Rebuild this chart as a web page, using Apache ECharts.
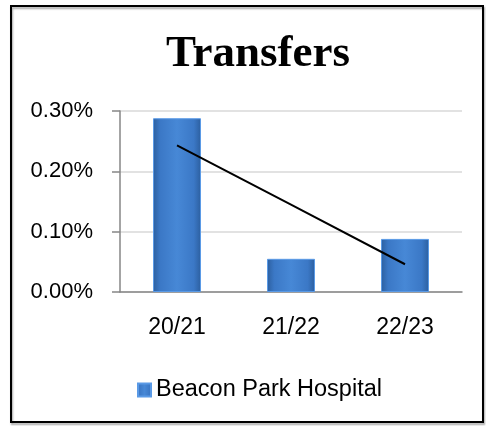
<!DOCTYPE html>
<html>
<head>
<meta charset="utf-8">
<script src="https://cdn.jsdelivr.net/npm/echarts@6/dist/echarts.min.js"></script>
<style>
  html, body { margin: 0; padding: 0; background: #fff; }
  #chart { width: 486px; height: 426px; }
</style>
</head>
<body>
<div id="chart"></div>
<script>
const seasons = ['20/21', '21/22', '22/23'];
const transfers = [0.00288, 0.00055, 0.00088];
// linear trend line
const trend = [0.00243, 0.00145, 0.00046];
const yTicks = [0, 0.001, 0.002, 0.003];

const barColor = new echarts.graphic.LinearGradient(0, 0, 1, 0, [
  { offset: 0, color: '#2c5f9f' },
  { offset: 0.15, color: '#3b78c6' },
  { offset: 0.5, color: '#4788d6' },
  { offset: 0.85, color: '#3b78c6' },
  { offset: 1, color: '#2c5f9f' }
]);

const chart = echarts.init(document.getElementById('chart'));
chart.setOption({
  animation: false,
  backgroundColor: '#fff',
  title: {
    text: 'Transfers',
    left: 253,
    top: 27,
    textAlign: 'center',
    textStyle: {
      fontFamily: 'Liberation Serif',
      fontWeight: 'bold',
      fontSize: 45,
      color: '#000'
    }
  },
  graphic: [{
    type: 'rect',
    shape: { x: 11, y: 6, width: 472, height: 416 },
    style: { fill: null, stroke: '#000', lineWidth: 2, shadowColor: 'rgba(0,0,0,0.35)', shadowOffsetX: 1, shadowOffsetY: 2, shadowBlur: 2 },
    z: 100
  }],
  legend: {
    data: ['Beacon Park Hospital'],
    left: 132,
    top: 373,
    itemWidth: 13,
    itemHeight: 13,
    itemGap: 6,
    textStyle: { fontFamily: 'Liberation Sans', fontSize: 23.5, color: '#000' },
    icon: 'rect'
  },
  grid: { left: 120, right: 24, top: 111, bottom: 134 },
  xAxis: {
    type: 'category',
    data: seasons,
    axisLine: { lineStyle: { color: '#868686', width: 1.5 } },
    axisTick: { length: 8, lineStyle: { color: '#868686', width: 1.5 } },
    axisLabel: { margin: 24, fontFamily: 'Liberation Sans', fontSize: 23, color: '#000' }
  },
  yAxis: {
    type: 'value',
    min: yTicks[0],
    max: yTicks[yTicks.length - 1],
    interval: yTicks[1] - yTicks[0],
    axisLine: { show: true, lineStyle: { color: '#868686', width: 1.5 } },
    axisTick: { show: true, length: 8, lineStyle: { color: '#868686', width: 1.5 } },
    splitLine: { lineStyle: { color: '#d9d9d9', width: 1.5 } },
    axisLabel: {
      margin: 27,
      fontFamily: 'Liberation Sans',
      fontSize: 22,
      color: '#000',
      formatter: v => (v * 100).toFixed(2) + '%'
    }
  },
  series: [
    {
      name: 'Beacon Park Hospital',
      type: 'bar',
      data: transfers,
      barWidth: 48,
      itemStyle: { color: barColor, borderColor: '#5a9ae6', borderWidth: 1 }
    },
    {
      name: 'Trend',
      type: 'line',
      data: trend,
      symbol: 'none',
      lineStyle: { color: '#000', width: 2 },
      z: 5
    }
  ]
});
</script>
</body>
</html>
